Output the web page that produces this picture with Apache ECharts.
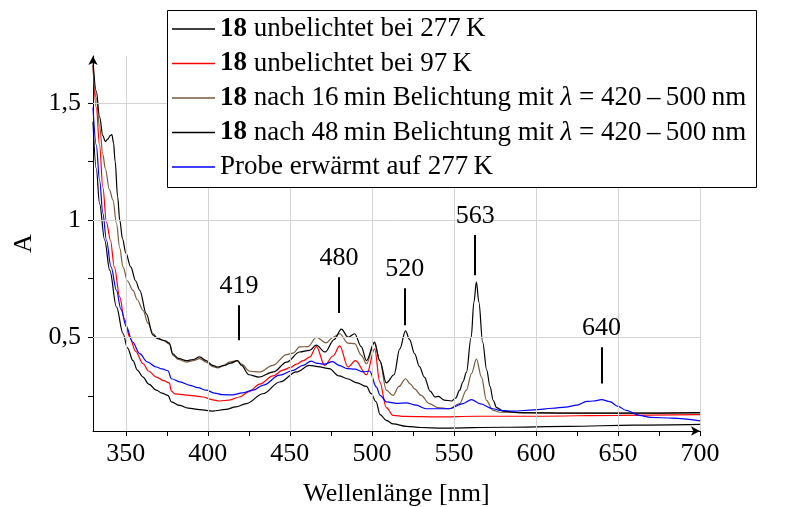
<!DOCTYPE html>
<html>
<head>
<meta charset="utf-8">
<script src="https://cdn.jsdelivr.net/npm/echarts@6/dist/echarts.min.js"></script>
<style>html,body{margin:0;padding:0;background:#fff;}#c{width:792px;height:507px;}</style>
</head>
<body>
<div id="c"></div>
<script>
// ---- data (wavelength [nm], absorbance) ----
const x277 = [330,332,334,337.1,340.2,344.3,348.3,351,354.4,357,360.5,364,368.6,372,375.7,377.8,382.8,388,395,403,411,417,423.5,433.6,443.8,454,462,467,474,480,485,491,496.7,499.5,502.5,505,508.8,513,521,530,543,580,620,660,700];
const y277 = [1.42,1.22,1.07,0.915,0.786,0.63,0.516,0.455,0.40,0.36,0.33,0.30,0.274,0.262,0.252,0.224,0.209,0.198,0.191,0.185,0.192,0.203,0.217,0.259,0.309,0.352,0.38,0.375,0.366,0.335,0.323,0.305,0.29,0.26,0.225,0.17,0.145,0.13,0.12,0.115,0.112,0.116,0.12,0.125,0.128];

const x97 = [330,332,334,336,338.2,340.6,343,346.3,349,352.4,356,360.5,364,368.6,373,376.5,377.8,380,389,397,403,407,413,419.4,425,431.6,439.7,445.8,450,454,458,462,466.2,471.2,476.3,480.4,485.4,490,496.7,501.7,504.8,508.8,512.9,520,540,563,600,650,700];
const y97 = [1.66,1.48,1.32,1.14,0.99,0.915,0.80,0.672,0.58,0.50,0.44,0.387,0.355,0.33,0.315,0.305,0.27,0.258,0.252,0.245,0.233,0.228,0.232,0.245,0.268,0.30,0.335,0.36,0.37,0.385,0.40,0.415,0.46,0.38,0.42,0.463,0.373,0.40,0.34,0.45,0.31,0.20,0.167,0.162,0.16,0.163,0.163,0.167,0.17];

const x16 = [330,332,334,336,337.5,340,342.2,344.3,346.3,348.3,351,354.4,357,360.5,363.5,366.6,369.5,372.7,376.8,378.8,382,387,391,395,399,403,406,410,413,418,420.5,425.5,431.5,439.7,448,452,456,461,466.2,472,476.3,480.4,485.4,489.5,493.6,496.7,501.7,504.8,508.8,512.9,516.5,520.5,523.5,526,530,535,540,547,553.5,557.6,560.7,563.7,566.8,569.8,573.8,578,600,650,700];
const y16 = [1.66,1.52,1.40,1.28,1.22,1.13,1.085,0.986,0.88,0.80,0.74,0.70,0.66,0.615,0.56,0.516,0.495,0.487,0.47,0.423,0.405,0.394,0.40,0.409,0.394,0.375,0.369,0.38,0.394,0.40,0.385,0.355,0.352,0.38,0.426,0.432,0.459,0.46,0.50,0.476,0.50,0.515,0.475,0.473,0.423,0.387,0.48,0.40,0.274,0.252,0.29,0.323,0.30,0.28,0.252,0.217,0.20,0.195,0.217,0.274,0.345,0.407,0.33,0.231,0.188,0.18,0.177,0.176,0.177];

const x48 = [330,332,334,336,337.5,339,340.5,341.5,342.5,343.5,345,346.3,348,350,353,356,358.5,362.5,366.5,369.5,374,376.5,378.5,382,387,391,395,399,403,406,410,414,418,420.5,425,431,440,448,456,462,466,471.5,477,481.4,485.5,489.5,493.5,496.7,501.5,504.8,508.8,513.5,517,520.5,523,526,529,532,535.5,538.5,540.5,544,548.5,551,553.5,555.5,557.6,560.5,562.2,563.7,565.2,567.5,570,572,574,576,580,590,620,660,700];
const y48 = [1.68,1.55,1.44,1.36,1.335,1.345,1.36,1.365,1.33,1.25,1.10,1.0,0.92,0.86,0.80,0.74,0.70,0.60,0.51,0.494,0.485,0.475,0.43,0.41,0.40,0.405,0.416,0.40,0.38,0.373,0.38,0.39,0.40,0.38,0.34,0.33,0.352,0.394,0.437,0.444,0.466,0.437,0.49,0.535,0.50,0.515,0.46,0.40,0.477,0.40,0.305,0.34,0.45,0.527,0.49,0.43,0.375,0.33,0.27,0.245,0.248,0.232,0.228,0.24,0.274,0.31,0.35,0.50,0.65,0.736,0.65,0.48,0.36,0.29,0.23,0.20,0.185,0.178,0.176,0.176,0.178];

const xP = [330,332,334,336,338.2,341,344.3,347,350.4,354,358.5,363,368.6,372,375.7,377.8,383,389,394,399,404,409,415,421,427.5,433.6,443.8,452,458,463,466,471,476,480,485,489.5,494.6,498.6,502.7,505,509,515,521,527,533,547,555.5,560.7,565.7,573.8,578,586,599,610,618,625,631,635,640,645,650,655,663,670,683,700];
const yP = [1.48,1.32,1.17,1.03,0.915,0.80,0.70,0.62,0.544,0.48,0.43,0.395,0.373,0.365,0.357,0.323,0.31,0.295,0.285,0.274,0.262,0.255,0.254,0.263,0.274,0.295,0.338,0.359,0.38,0.398,0.39,0.385,0.396,0.38,0.366,0.364,0.352,0.356,0.288,0.252,0.224,0.218,0.22,0.21,0.195,0.195,0.217,0.234,0.217,0.195,0.188,0.185,0.19,0.197,0.202,0.21,0.226,0.228,0.234,0.225,0.205,0.188,0.167,0.158,0.155,0.143];

// peak annotations
const peakX = [419,480,520,563,640];
const peakLow = [0.487,0.603,0.551,0.765,0.303];
const peakHigh = [0.637,0.756,0.709,0.936,0.457];

// axis ticks / labels
const xTicks = [350,375,400,425,450,475,500,525,550,575,600,625,650,675,700];
const xLabels = [350,400,450,500,550,600,650,700];
const yTicks = [0.25,0.5,0.75,1,1.25,1.5];
const yLabels = [0.5,1,1.5];
const xGrid = [350,400,450,500,550,600,650,700];
const yGrid = [0.5,1,1.5];

const names = ['s277','s97','s16','s48','sP'];
const legendText = {
  s277: '{b|18} unbelichtet bei 277\u2009K',
  s97: '{b|18} unbelichtet bei 97\u2009K',
  s16: '{b|18} nach 16\u2009min Belichtung mit {i|λ} = 420\u2009–\u2009500\u2009nm',
  s48: '{b|18} nach 48\u2009min Belichtung mit {i|λ} = 420\u2009–\u2009500\u2009nm',
  sP: 'Probe erwärmt auf 277\u2009K'
};
const colors = {s277:'#000000', s97:'#ff0000', s16:'#7a5a3a', s48:'#000000', sP:'#0000ff'};
const xs = {s277:x277, s97:x97, s16:x16, s48:x48, sP:xP};
const ys = {s277:y277, s97:y97, s16:y16, s48:y48, sP:yP};

const FONT = 'Liberation Serif';
const zip = (a,b) => a.map((v,i)=>[v,b[i]]);

const series = [];
series.push({
  name: 'gridlines', type: 'line', data: [], z: 1, silent: true,
  markLine: {
    silent: true, symbol: 'none', animation: false,
    label: {show: false},
    lineStyle: {color: '#d3d3d3', width: 1, type: 'solid'},
    data: xGrid.map(v => ({xAxis: v})).concat(yGrid.map(v => ({yAxis: v})))
  }
});
names.forEach(n => {
  series.push({
    name: n, type: 'line', data: zip(xs[n], ys[n]),
    symbol: 'none', smooth: 0.35, smoothMonotone: 'x',
    lineStyle: {color: colors[n], width: 1.2}, itemStyle: {color: colors[n]},
    z: 3, animation: false
  });
});
series.push({
  name: 'peaks', type: 'line', data: [], z: 4, silent: true,
  markLine: {
    silent: true, symbol: 'none', animation: false,
    lineStyle: {color: '#000', width: 2, type: 'solid'},
    label: {show: true, position: 'end', formatter: '{b}', color: '#000',
            fontFamily: FONT, fontSize: 26, distance: 6},
    data: peakX.map((x,i) => [{coord: [x, peakLow[i]], name: String(x)}, {coord: [x, peakHigh[i]]}])
  }
});

const chart = echarts.init(document.getElementById('c'), null, {renderer: 'canvas'});
chart.setOption({
  animation: false,
  backgroundColor: '#fff',
  grid: {left: 93, right: 92, top: 56, bottom: 76, containLabel: false, outerBoundsMode: 'none'},
  graphic: [{
    type: 'rect', z: 50, silent: true,
    shape: {x: 167.5, y: 10.5, width: 589, height: 177},
    style: {fill: '#fff', stroke: '#000', lineWidth: 1}
  }],
  legend: {
    data: names, orient: 'vertical', left: 172, top: 14, z: 60,
    padding: 0, itemWidth: 43, itemHeight: 1.4, itemGap: 4.5,
    icon: 'rect',
    selectedMode: false,
    formatter: n => legendText[n],
    textStyle: {fontFamily: FONT, fontSize: 27, color: '#000', lineHeight: 30,
      rich: {b: {fontFamily: FONT, fontSize: 27, fontWeight: 'bold', color: '#000', lineHeight: 30},
             i: {fontFamily: FONT, fontSize: 27, fontStyle: 'italic', color: '#000', lineHeight: 30}}}
  },
  xAxis: {
    type: 'value', min: 330, max: 700,
    name: 'Wellenlänge [nm]', nameLocation: 'middle', nameGap: 50,
    nameTextStyle: {fontFamily: FONT, fontSize: 26, color: '#000'},
    axisLine: {show: true, lineStyle: {color: '#000', width: 1}, symbol: ['none','arrow'], symbolSize: [7, 9]},
    axisTick: {show: true, customValues: xTicks, length: 5, lineStyle: {color: '#000'}},
    axisLabel: {customValues: xLabels, fontFamily: FONT, fontSize: 26, color: '#000', margin: 10},
    splitLine: {show: false}
  },
  yAxis: {
    type: 'value', min: 0.1, max: 1.7,
    name: 'A', nameLocation: 'middle', nameGap: 54, nameRotate: 90,
    nameTextStyle: {fontFamily: FONT, fontSize: 26, color: '#000'},
    axisLine: {show: true, lineStyle: {color: '#000', width: 1}, symbol: ['none','arrow'], symbolSize: [7, 9]},
    axisTick: {show: true, customValues: yTicks, length: 5, lineStyle: {color: '#000'}},
    axisLabel: {customValues: yLabels, fontFamily: FONT, fontSize: 26, color: '#000', margin: 12,
      formatter: v => String(v).replace('.', ',')},
    splitLine: {show: false}
  },
  series: series
});
</script>
</body>
</html>
